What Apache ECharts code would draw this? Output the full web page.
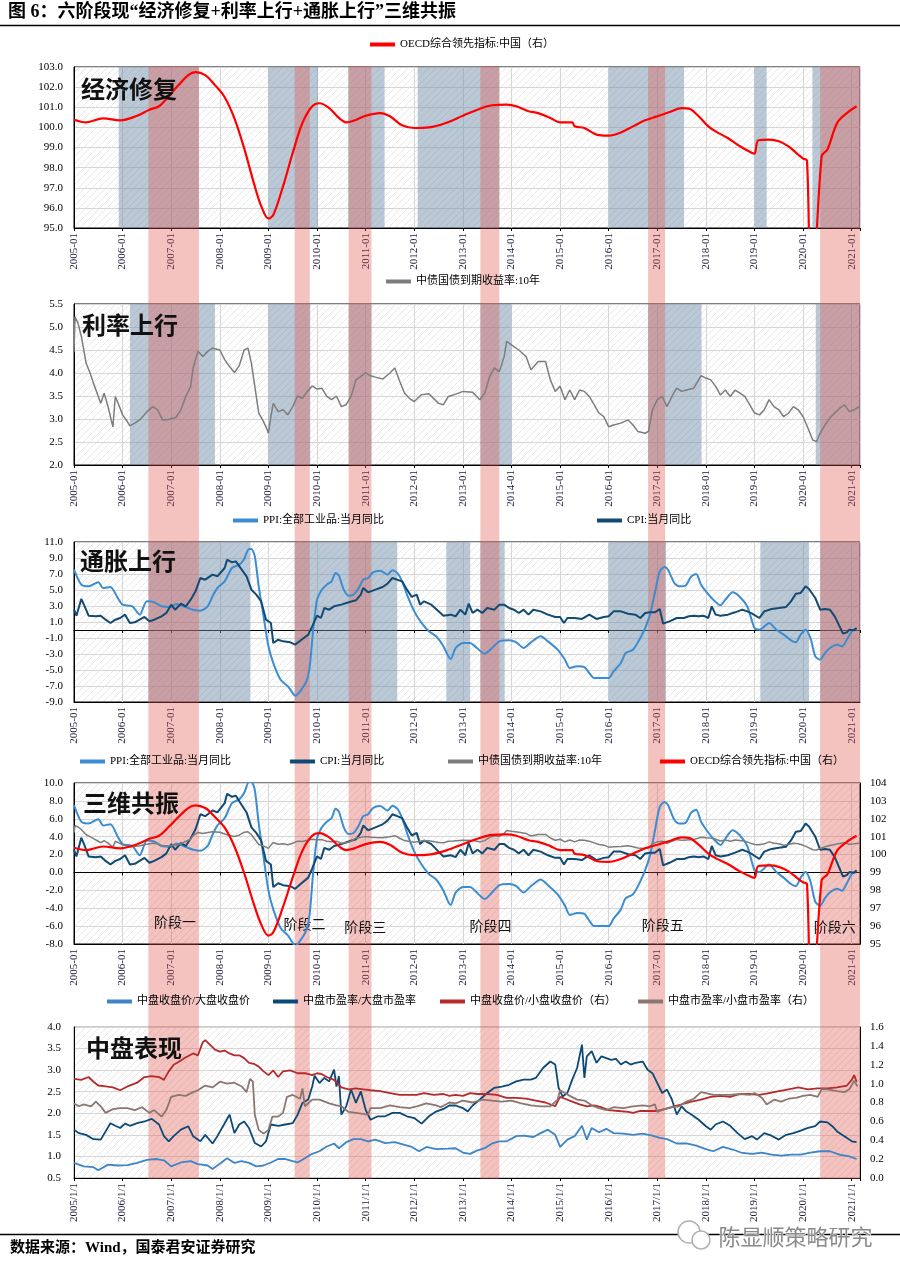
<!DOCTYPE html>
<html><head><meta charset="utf-8">
<script src="https://cdn.jsdelivr.net/npm/echarts/dist/echarts.min.js"></script>
<style>html,body{margin:0;padding:0;background:#fff}#c{width:900px;height:1276px}</style>
</head><body><div id="c"></div>
<script>
// ---------------- DATA (x = fractional year) ----------------
const yearTicks = {min: 2005, max: 2021.17};
const stageNames = ['阶段一','阶段二','阶段三','阶段四','阶段五','阶段六'];
const stageBands = [[2006.53,2007.57],[2009.54,2009.85],[2010.65,2011.12],[2013.36,2013.75],[2016.81,2017.16],[2020.35,2021.17]];
const stageLabelAt = [[2007.08,-5.5],[2009.74,-5.72],[2010.99,-6.06],[2013.57,-5.95],[2017.11,-5.84],[2020.65,-6.06]];
const econBands = [[2005.92,2007.57],[2009.0,2010.02],[2010.64,2011.39],[2012.07,2013.75],[2016.0,2017.55],[2019.0,2019.25],[2020.19,2021.17]];
const rateBands = [[2006.15,2007.9],[2009.0,2009.86],[2010.65,2011.12],[2013.36,2014.0],[2016.81,2017.91],[2020.26,2021.17]];
const inflBands = [[2006.53,2008.63],[2009.54,2011.65],[2012.66,2013.15],[2013.36,2013.86],[2016.0,2017.18],[2019.12,2020.12],[2020.35,2021.17]];

const oecd = [[2005.0,100.38],[2005.25,100.25],[2005.6,100.45],[2005.95,100.35],[2006.3,100.58],[2006.55,100.88],[2006.75,101.05],[2006.95,101.55],[2007.15,102.1],[2007.35,102.6],[2007.5,102.75],[2007.7,102.6],[2007.9,102.1],[2008.1,101.5],[2008.3,100.45],[2008.5,98.97],[2008.7,97.23],[2008.85,96.1],[2009.0,95.47],[2009.1,95.65],[2009.3,97.07],[2009.5,98.73],[2009.7,100.22],[2009.9,101.05],[2010.05,101.2],[2010.25,100.96],[2010.45,100.47],[2010.6,100.25],[2010.75,100.33],[2011.0,100.58],[2011.3,100.71],[2011.5,100.55],[2011.75,100.1],[2012.0,99.97],[2012.3,100.0],[2012.65,100.22],[2013.0,100.58],[2013.3,100.88],[2013.6,101.1],[2013.9,101.13],[2014.1,101.05],[2014.35,100.8],[2014.55,100.71],[2014.8,100.47],[2015.0,100.25],[2015.25,100.25],[2015.3,100.05],[2015.5,99.97],[2015.75,99.64],[2016.0,99.59],[2016.25,99.75],[2016.5,100.05],[2016.75,100.35],[2017.0,100.55],[2017.25,100.76],[2017.5,100.96],[2017.65,100.93],[2017.85,100.55],[2018.05,100.05],[2018.2,99.8],[2018.45,99.47],[2018.7,99.06],[2018.95,98.73],[2019.0,98.7],[2019.08,99.36],[2019.3,99.39],[2019.5,99.31],[2019.7,99.06],[2019.9,98.64],[2020.0,98.45],[2020.08,98.35],[2020.17,90.5],[2020.38,98.56],[2020.5,98.9],[2020.7,100.22],[2020.9,100.71],[2021.1,101.05]];

const bond10y = [[2005.0,4.45],[2005.02,5.22],[2005.08,5.09],[2005.15,4.8],[2005.25,4.21],[2005.33,4.0],[2005.4,3.78],[2005.5,3.49],[2005.55,3.34],[2005.62,3.56],[2005.7,3.27],[2005.8,2.83],[2005.85,3.49],[2005.92,3.31],[2006.0,3.09],[2006.1,2.94],[2006.15,2.85],[2006.25,2.91],[2006.35,2.98],[2006.5,3.16],[2006.62,3.27],[2006.72,3.2],[2006.82,2.98],[2006.95,2.99],[2007.1,3.04],[2007.2,3.2],[2007.3,3.49],[2007.4,3.71],[2007.45,4.11],[2007.55,4.47],[2007.65,4.36],[2007.75,4.47],[2007.85,4.54],[2008.0,4.5],[2008.1,4.29],[2008.2,4.14],[2008.3,4.01],[2008.4,4.16],[2008.5,4.5],[2008.58,4.54],[2008.65,4.21],[2008.72,3.71],[2008.8,3.13],[2008.88,2.98],[2008.95,2.83],[2009.0,2.69],[2009.05,3.05],[2009.1,3.34],[2009.2,3.16],[2009.3,3.2],[2009.4,3.09],[2009.5,3.27],[2009.6,3.5],[2009.7,3.45],[2009.8,3.6],[2009.9,3.72],[2010.0,3.65],[2010.1,3.67],[2010.2,3.49],[2010.3,3.42],[2010.4,3.5],[2010.5,3.27],[2010.6,3.31],[2010.7,3.49],[2010.8,3.85],[2010.9,3.92],[2011.0,4.01],[2011.1,3.94],[2011.2,3.91],[2011.35,3.87],[2011.5,4.0],[2011.6,4.11],[2011.7,3.82],[2011.8,3.56],[2011.9,3.45],[2012.0,3.38],[2012.15,3.53],[2012.3,3.55],[2012.5,3.34],[2012.6,3.31],[2012.7,3.49],[2012.8,3.52],[2013.0,3.6],[2013.2,3.58],[2013.35,3.42],[2013.45,3.56],[2013.55,3.92],[2013.65,4.11],[2013.75,4.03],[2013.85,4.36],[2013.9,4.69],[2014.0,4.61],[2014.15,4.5],[2014.3,4.36],[2014.4,4.07],[2014.55,4.25],[2014.7,4.25],[2014.8,3.85],[2014.9,3.6],[2015.0,3.71],[2015.1,3.42],[2015.2,3.63],[2015.3,3.42],[2015.4,3.63],[2015.5,3.6],[2015.6,3.49],[2015.7,3.31],[2015.8,3.13],[2015.9,3.05],[2016.0,2.83],[2016.1,2.87],[2016.25,2.91],[2016.4,2.98],[2016.5,2.87],[2016.6,2.73],[2016.75,2.69],[2016.82,2.73],[2016.9,3.2],[2017.0,3.42],[2017.1,3.49],[2017.2,3.27],[2017.3,3.49],[2017.4,3.67],[2017.5,3.6],[2017.6,3.63],[2017.75,3.67],[2017.9,3.94],[2018.0,3.89],[2018.1,3.85],[2018.2,3.71],[2018.3,3.52],[2018.4,3.63],[2018.5,3.49],[2018.6,3.63],[2018.7,3.56],[2018.8,3.49],[2018.9,3.31],[2019.0,3.13],[2019.1,3.09],[2019.2,3.2],[2019.3,3.42],[2019.4,3.27],[2019.5,3.2],[2019.6,3.05],[2019.7,3.13],[2019.8,3.27],[2019.9,3.2],[2020.0,3.05],[2020.1,2.8],[2020.2,2.54],[2020.28,2.51],[2020.35,2.69],[2020.45,2.87],[2020.55,3.02],[2020.65,3.13],[2020.75,3.23],[2020.85,3.31],[2020.95,3.16],[2021.05,3.2],[2021.15,3.27]];

const ppi = [[2005.0,7.54],[2005.15,5.67],[2005.3,5.46],[2005.5,5.96],[2005.6,5.25],[2005.75,5.38],[2005.9,4.0],[2006.0,3.17],[2006.2,2.96],[2006.35,1.92],[2006.5,3.58],[2006.65,3.46],[2006.8,2.96],[2007.0,2.88],[2007.1,3.25],[2007.25,2.96],[2007.45,2.54],[2007.6,2.42],[2007.75,2.96],[2007.85,4.21],[2007.95,5.25],[2008.1,6.08],[2008.25,7.75],[2008.4,8.17],[2008.5,8.88],[2008.6,10.13],[2008.65,10.13],[2008.72,9.21],[2008.8,5.46],[2008.9,1.71],[2009.0,-2.04],[2009.1,-4.13],[2009.25,-6.21],[2009.4,-7.04],[2009.5,-7.88],[2009.55,-8.21],[2009.65,-7.67],[2009.78,-6.42],[2009.85,-4.54],[2009.92,0.0],[2010.0,3.79],[2010.1,5.04],[2010.2,5.67],[2010.3,6.08],[2010.38,7.13],[2010.45,6.79],[2010.55,5.04],[2010.65,4.29],[2010.75,4.42],[2010.85,5.17],[2010.95,6.29],[2011.05,6.5],[2011.15,7.21],[2011.3,7.42],[2011.45,6.92],[2011.55,7.46],[2011.65,7.13],[2011.75,6.08],[2011.85,4.42],[2012.0,2.33],[2012.15,0.88],[2012.3,-0.17],[2012.45,-0.79],[2012.6,-2.04],[2012.7,-3.29],[2012.75,-3.63],[2012.85,-2.25],[2013.0,-1.63],[2013.15,-1.63],[2013.25,-2.04],[2013.45,-2.96],[2013.6,-2.25],[2013.75,-1.42],[2013.95,-1.29],[2014.1,-1.54],[2014.25,-2.25],[2014.4,-1.54],[2014.6,-0.79],[2014.75,-1.42],[2014.95,-2.46],[2015.1,-3.71],[2015.2,-4.75],[2015.35,-4.54],[2015.5,-4.63],[2015.6,-5.38],[2015.7,-6.0],[2015.85,-6.0],[2016.0,-6.0],[2016.1,-5.17],[2016.25,-4.13],[2016.35,-2.88],[2016.5,-2.46],[2016.65,-1.0],[2016.75,0.25],[2016.85,1.92],[2016.95,4.63],[2017.05,7.33],[2017.15,7.88],[2017.22,7.54],[2017.35,5.88],[2017.45,5.46],[2017.58,5.54],[2017.7,6.71],[2017.8,7.0],[2017.9,5.67],[2018.0,4.83],[2018.15,3.79],[2018.3,3.08],[2018.4,3.79],[2018.55,4.71],[2018.7,4.13],[2018.85,2.96],[2019.0,0.25],[2019.1,0.04],[2019.3,0.88],[2019.45,0.04],[2019.6,-0.58],[2019.75,-1.29],[2019.85,-1.54],[2019.95,-0.58],[2020.05,0.04],[2020.15,-1.0],[2020.25,-3.29],[2020.35,-3.71],[2020.45,-2.88],[2020.55,-2.25],[2020.7,-1.83],[2020.8,-2.04],[2020.9,-1.21],[2021.0,-0.17],[2021.08,0.13]];

const cpi = [[2005.0,2.54],[2005.05,1.79],[2005.15,3.88],[2005.22,2.96],[2005.3,1.79],[2005.45,1.71],[2005.55,1.79],[2005.65,1.29],[2005.75,0.88],[2005.85,1.29],[2005.95,1.5],[2006.05,1.92],[2006.15,0.88],[2006.25,0.96],[2006.35,1.29],[2006.45,1.63],[2006.55,1.08],[2006.65,1.29],[2006.8,1.71],[2006.9,2.13],[2007.0,3.17],[2007.08,2.54],[2007.2,3.29],[2007.3,2.96],[2007.4,3.79],[2007.5,4.83],[2007.6,6.5],[2007.7,6.29],[2007.85,6.92],[2007.95,6.71],[2008.1,7.75],[2008.15,8.79],[2008.25,8.46],[2008.33,8.58],[2008.45,7.54],[2008.55,6.71],[2008.65,5.04],[2008.75,4.42],[2008.85,3.58],[2008.95,1.29],[2009.05,0.88],[2009.1,-1.63],[2009.2,-1.21],[2009.3,-1.42],[2009.45,-1.54],[2009.55,-1.83],[2009.7,-1.13],[2009.82,-0.58],[2009.9,0.46],[2010.0,1.79],[2010.08,1.5],[2010.15,2.75],[2010.25,2.54],[2010.35,2.96],[2010.5,3.17],[2010.65,3.46],[2010.8,3.71],[2010.9,4.42],[2010.95,5.25],[2011.05,4.71],[2011.2,5.04],[2011.35,5.38],[2011.45,5.79],[2011.55,6.5],[2011.65,6.29],[2011.75,6.08],[2011.85,5.04],[2011.95,4.13],[2012.05,4.42],[2012.12,3.17],[2012.2,3.58],[2012.35,3.17],[2012.5,2.33],[2012.6,1.79],[2012.75,1.92],[2012.85,1.71],[2012.95,2.54],[2013.05,1.92],[2013.12,3.29],[2013.2,2.13],[2013.3,2.54],[2013.4,2.13],[2013.5,2.75],[2013.65,2.54],[2013.75,3.17],[2013.85,3.17],[2013.95,2.75],[2014.05,2.54],[2014.15,2.13],[2014.25,2.54],[2014.35,1.92],[2014.45,2.54],[2014.6,2.33],[2014.75,1.92],[2014.9,1.63],[2015.0,1.63],[2015.08,0.88],[2015.15,1.5],[2015.3,1.5],[2015.45,1.38],[2015.6,1.92],[2015.75,1.38],[2015.9,1.63],[2016.0,1.71],[2016.1,2.33],[2016.25,2.33],[2016.4,2.04],[2016.55,1.92],[2016.65,1.5],[2016.75,2.13],[2016.85,2.21],[2016.95,2.21],[2017.05,2.63],[2017.12,0.79],[2017.25,1.08],[2017.4,1.5],[2017.55,1.5],[2017.65,1.71],[2017.75,1.79],[2017.85,1.71],[2017.95,1.79],[2018.05,1.5],[2018.12,2.96],[2018.2,1.92],[2018.3,1.79],[2018.45,1.92],[2018.6,2.21],[2018.75,2.54],[2018.85,2.33],[2018.95,2.04],[2019.1,1.5],[2019.2,2.33],[2019.35,2.63],[2019.5,2.75],[2019.65,2.88],[2019.75,3.58],[2019.85,4.54],[2019.95,4.63],[2020.05,5.46],[2020.12,5.13],[2020.25,4.0],[2020.35,2.54],[2020.45,2.63],[2020.55,2.54],[2020.65,1.71],[2020.75,0.46],[2020.82,-0.46],[2020.9,-0.29],[2020.95,0.04],[2021.05,-0.04],[2021.1,0.25]];

const midLargePrice = [[2005.0,0.85],[2005.2,0.77],[2005.4,0.75],[2005.5,0.68],[2005.7,0.81],[2005.9,0.79],[2006.1,0.8],[2006.3,0.85],[2006.5,0.92],[2006.7,0.94],[2006.85,0.91],[2007.0,0.77],[2007.2,0.86],[2007.4,0.89],[2007.55,0.82],[2007.75,0.79],[2007.85,0.71],[2008.0,0.83],[2008.15,0.96],[2008.3,0.85],[2008.45,0.89],[2008.6,0.85],[2008.75,0.77],[2008.9,0.79],[2009.05,0.86],[2009.2,0.94],[2009.35,0.94],[2009.5,0.89],[2009.6,0.86],[2009.75,0.96],[2009.9,1.06],[2010.05,1.12],[2010.2,1.23],[2010.35,1.3],[2010.45,1.19],[2010.6,1.33],[2010.75,1.4],[2010.9,1.4],[2011.05,1.35],[2011.2,1.39],[2011.4,1.31],[2011.6,1.33],[2011.8,1.27],[2011.95,1.22],[2012.1,1.12],[2012.25,1.22],[2012.45,1.17],[2012.7,1.18],[2012.85,1.19],[2013.0,1.09],[2013.15,1.06],[2013.3,1.14],[2013.45,1.19],[2013.6,1.3],[2013.75,1.35],[2013.9,1.35],[2014.1,1.47],[2014.25,1.48],[2014.45,1.45],[2014.6,1.54],[2014.75,1.62],[2014.9,1.5],[2015.0,1.22],[2015.15,1.39],[2015.3,1.47],[2015.45,1.71],[2015.55,1.39],[2015.65,1.66],[2015.8,1.56],[2015.95,1.64],[2016.1,1.54],[2016.3,1.53],[2016.5,1.5],[2016.7,1.53],[2016.9,1.48],[2017.05,1.43],[2017.2,1.4],[2017.4,1.3],[2017.6,1.3],[2017.8,1.25],[2018.0,1.17],[2018.15,1.12],[2018.35,1.22],[2018.55,1.16],[2018.75,1.08],[2018.95,1.06],[2019.15,1.09],[2019.35,1.04],[2019.55,1.02],[2019.75,1.04],[2019.95,1.04],[2020.15,1.09],[2020.35,1.12],[2020.55,1.12],[2020.75,1.04],[2020.95,1.0],[2021.1,0.94]];

const midLargePE = [[2005.0,1.62],[2005.1,1.54],[2005.25,1.5],[2005.4,1.4],[2005.55,1.39],[2005.65,1.58],[2005.75,1.77],[2005.85,1.71],[2005.95,1.66],[2006.05,1.76],[2006.15,1.71],[2006.3,1.77],[2006.45,1.81],[2006.6,1.87],[2006.75,1.74],[2006.85,1.47],[2006.95,1.35],[2007.05,1.47],[2007.2,1.62],[2007.35,1.7],[2007.45,1.47],[2007.6,1.35],[2007.7,1.5],[2007.85,1.3],[2007.95,1.47],[2008.1,1.77],[2008.2,1.97],[2008.3,1.54],[2008.4,1.74],[2008.5,1.81],[2008.6,1.66],[2008.72,1.31],[2008.85,1.23],[2008.95,1.35],[2009.05,1.74],[2009.2,1.71],[2009.35,1.74],[2009.5,1.77],[2009.6,1.97],[2009.7,2.24],[2009.82,2.32],[2009.9,2.62],[2009.95,2.87],[2010.05,2.7],[2010.15,2.82],[2010.25,2.74],[2010.35,3.01],[2010.4,2.62],[2010.45,2.86],[2010.5,1.97],[2010.6,2.16],[2010.7,2.55],[2010.8,2.24],[2010.9,2.51],[2011.0,2.08],[2011.1,1.85],[2011.25,1.93],[2011.4,1.93],[2011.55,2.01],[2011.7,2.01],[2011.85,1.93],[2012.0,1.89],[2012.15,1.76],[2012.3,1.93],[2012.45,2.04],[2012.6,2.1],[2012.72,2.18],[2012.85,2.18],[2013.0,2.12],[2013.1,2.04],[2013.2,2.18],[2013.35,2.32],[2013.5,2.47],[2013.65,2.59],[2013.8,2.62],[2013.95,2.66],[2014.1,2.74],[2014.25,2.78],[2014.4,2.78],[2014.5,2.82],[2014.65,3.05],[2014.8,3.2],[2014.9,3.13],[2014.97,2.59],[2015.05,2.39],[2015.15,2.47],[2015.25,2.78],[2015.35,3.05],[2015.45,3.59],[2015.5,2.82],[2015.55,3.32],[2015.65,3.44],[2015.75,3.17],[2015.85,3.32],[2015.95,3.28],[2016.05,3.24],[2016.15,3.26],[2016.25,3.13],[2016.35,3.2],[2016.45,3.13],[2016.55,3.17],[2016.7,3.2],[2016.8,3.01],[2016.9,2.93],[2017.0,2.7],[2017.1,2.47],[2017.2,2.55],[2017.3,2.32],[2017.4,1.97],[2017.5,2.16],[2017.6,2.04],[2017.7,1.97],[2017.85,1.85],[2018.0,1.7],[2018.1,1.62],[2018.2,1.74],[2018.35,1.81],[2018.5,1.71],[2018.65,1.54],[2018.8,1.4],[2018.95,1.47],[2019.05,1.39],[2019.2,1.54],[2019.35,1.48],[2019.5,1.39],[2019.65,1.5],[2019.8,1.54],[2019.95,1.6],[2020.1,1.66],[2020.25,1.7],[2020.35,1.81],[2020.5,1.79],[2020.6,1.7],[2020.7,1.58],[2020.8,1.5],[2020.9,1.43],[2021.0,1.35],[2021.1,1.33]];

const midSmallPrice = [[2005.0,1.05],[2005.15,1.04],[2005.3,1.07],[2005.4,1.02],[2005.5,0.98],[2005.65,0.97],[2005.8,0.96],[2005.95,0.93],[2006.1,0.97],[2006.3,1.01],[2006.45,1.07],[2006.6,1.08],[2006.75,1.07],[2006.85,1.04],[2006.95,1.13],[2007.05,1.2],[2007.15,1.23],[2007.3,1.28],[2007.45,1.32],[2007.55,1.3],[2007.65,1.44],[2007.7,1.46],[2007.8,1.41],[2007.9,1.36],[2008.0,1.34],[2008.1,1.35],[2008.2,1.32],[2008.3,1.3],[2008.4,1.3],[2008.5,1.27],[2008.6,1.22],[2008.7,1.21],[2008.8,1.18],[2008.9,1.13],[2009.0,1.09],[2009.1,1.14],[2009.2,1.07],[2009.3,1.13],[2009.45,1.14],[2009.6,1.11],[2009.75,1.11],[2009.9,1.09],[2010.0,1.11],[2010.1,1.1],[2010.2,1.07],[2010.35,1.04],[2010.5,0.96],[2010.65,0.94],[2010.8,0.95],[2010.95,0.94],[2011.1,0.93],[2011.3,0.92],[2011.5,0.9],[2011.7,0.88],[2011.9,0.88],[2012.05,0.88],[2012.2,0.9],[2012.4,0.88],[2012.6,0.89],[2012.72,0.87],[2012.85,0.88],[2013.0,0.87],[2013.15,0.9],[2013.3,0.89],[2013.5,0.89],[2013.7,0.88],[2013.9,0.85],[2014.1,0.85],[2014.3,0.84],[2014.5,0.82],[2014.7,0.8],[2014.9,0.76],[2015.0,0.86],[2015.1,0.84],[2015.25,0.81],[2015.4,0.78],[2015.55,0.76],[2015.7,0.77],[2015.85,0.75],[2016.0,0.72],[2016.2,0.71],[2016.4,0.7],[2016.5,0.69],[2016.65,0.71],[2016.85,0.71],[2017.0,0.71],[2017.15,0.73],[2017.35,0.76],[2017.5,0.78],[2017.7,0.81],[2017.9,0.83],[2018.1,0.86],[2018.3,0.87],[2018.5,0.86],[2018.7,0.89],[2018.9,0.89],[2019.1,0.88],[2019.3,0.9],[2019.5,0.92],[2019.7,0.94],[2019.9,0.96],[2020.1,0.94],[2020.3,0.95],[2020.5,0.95],[2020.7,0.96],[2020.9,0.98],[2021.0,1.04],[2021.05,1.09],[2021.1,1.02]];

const midSmallPE = [[2005.0,0.79],[2005.1,0.76],[2005.2,0.78],[2005.35,0.76],[2005.45,0.81],[2005.55,0.76],[2005.65,0.69],[2005.8,0.73],[2005.95,0.74],[2006.1,0.74],[2006.25,0.72],[2006.4,0.75],[2006.55,0.69],[2006.65,0.72],[2006.8,0.65],[2006.9,0.72],[2007.0,0.86],[2007.15,0.88],[2007.3,0.87],[2007.45,0.91],[2007.55,0.93],[2007.7,0.98],[2007.85,0.96],[2008.0,1.02],[2008.15,1.0],[2008.3,1.01],[2008.45,0.97],[2008.55,0.91],[2008.62,1.05],[2008.68,1.02],[2008.72,0.67],[2008.8,0.51],[2008.9,0.47],[2009.0,0.51],[2009.08,0.65],[2009.2,0.65],[2009.3,0.69],[2009.38,0.86],[2009.5,0.88],[2009.65,0.84],[2009.7,0.95],[2009.75,0.76],[2009.9,0.83],[2010.05,0.83],[2010.25,0.79],[2010.4,0.77],[2010.5,0.76],[2010.65,0.7],[2010.8,0.69],[2010.95,0.68],[2011.05,0.67],[2011.1,0.74],[2011.3,0.74],[2011.5,0.77],[2011.7,0.75],[2011.9,0.74],[2012.05,0.76],[2012.25,0.79],[2012.45,0.77],[2012.55,0.75],[2012.72,0.8],[2012.85,0.79],[2013.0,0.82],[2013.2,0.8],[2013.4,0.83],[2013.6,0.82],[2013.8,0.81],[2014.0,0.82],[2014.2,0.79],[2014.4,0.77],[2014.6,0.76],[2014.8,0.76],[2014.95,0.83],[2015.0,0.93],[2015.1,0.9],[2015.2,0.87],[2015.35,0.83],[2015.5,0.82],[2015.65,0.77],[2015.8,0.74],[2015.95,0.72],[2016.1,0.75],[2016.3,0.74],[2016.5,0.76],[2016.7,0.77],[2016.85,0.76],[2016.95,0.78],[2017.0,0.7],[2017.15,0.73],[2017.3,0.75],[2017.45,0.76],[2017.6,0.81],[2017.75,0.84],[2017.9,0.91],[2018.0,0.9],[2018.15,0.88],[2018.3,0.88],[2018.5,0.88],[2018.7,0.89],[2018.9,0.88],[2019.0,0.9],[2019.15,0.85],[2019.25,0.78],[2019.4,0.83],[2019.55,0.81],[2019.7,0.84],[2019.85,0.85],[2020.0,0.87],[2020.15,0.88],[2020.3,0.86],[2020.38,0.94],[2020.5,0.94],[2020.7,0.92],[2020.85,0.91],[2020.95,0.94],[2021.05,1.03],[2021.12,0.97]];

// ---------------- CHART ----------------
const FN = '"Liberation Serif","Times New Roman",serif';
const FC = '"Liberation Serif","Noto Sans CJK SC",serif';
const C = {oecd:'#ff0000', bond:'#7d7d7d', ppi:'#3c8cd2', cpi:'#114a72', mlp:'#3d85c6', mlpe:'#0b4a76', msp:'#b52a2a', mspe:'#8c7672'};
const N = {oecd:'OECD综合领先指标:中国（右）', bond:'中债国债到期收益率:10年', ppi:'PPI:全部工业品:当月同比', cpi:'CPI:当月同比',
  mlp:'中盘收盘价/大盘收盘价', mlpe:'中盘市盈率/大盘市盈率', msp:'中盘收盘价/小盘收盘价（右）', mspe:'中盘市盈率/小盘市盈率（右）'};

function hatch(){const c=document.createElement('canvas');c.width=7;c.height=7;const g=c.getContext('2d');
  g.strokeStyle='#e8e8e8';g.lineWidth=1;g.beginPath();g.moveTo(0,7);g.lineTo(7,0);g.stroke();return c;}
const pat = {image: hatch(), repeat:'repeat'};
const L=74, R=40;
const gridBase = {left:L, right:R, show:true, borderColor:'#000', borderWidth:1, backgroundColor:pat};

const isInt = v => Math.abs(v-Math.round(v))<1e-6;
function xAx(gi, fmt, ticks, split){
  return {type:'value', gridIndex:gi, min:yearTicks.min, max:yearTicks.max, interval:1, position:'bottom',
    axisLine:{onZero:false, lineStyle:{color:'#000', width:1}},
    axisTick:{show:ticks, length:3, lineStyle:{color:'#000'}},
    axisLabel:{rotate:90, formatter: v => isInt(v) ? fmt(Math.round(v)) : '', fontFamily:FN, fontSize:11, color:'#1a1a38', margin:5},
    splitLine:{show:split, lineStyle:{color:'#d6d6d6', width:1}}};
}
function zeroAx(gi){
  return {type:'value', gridIndex:gi, min:yearTicks.min, max:yearTicks.max, interval:1, position:'bottom',
    axisLine:{onZero:true, lineStyle:{color:'#000', width:1}},
    axisTick:{show:true, length:3, lineStyle:{color:'#000'}},
    axisLabel:{show:false}, splitLine:{show:false}};
}
function yAx(gi, min, max, iv, dec, pos, split, margin){
  return {type:'value', gridIndex:gi, min, max, interval:iv, position:pos||'left',
    axisLine:{show:true, onZero:false, lineStyle:{color:'#000'}}, axisTick:{show:false},
    axisLabel:{formatter: v => v.toFixed(dec), fontFamily:FN, fontSize:11, color:'#000', margin: margin||11},
    splitLine:{show:split!==false, lineStyle:{color:'#d6d6d6', width:1}}};
}
const f1 = y => y+'-01', f2 = y => y+'/1/1';

function line(name, data, xi, yi, color, width, smooth){
  return {type:'line', name, data, xAxisIndex:xi, yAxisIndex:yi, showSymbol:false, symbol:'none',
    smooth: smooth||false, lineStyle:{color, width}, itemStyle:{color}, z:5, clip:true, silent:true};
}
function bands(xi, yi, arr, color, z){
  return {type:'line', data:[], xAxisIndex:xi, yAxisIndex:yi, z, silent:true,
    markArea:{silent:true, itemStyle:{color}, data: arr.map(b=>[{xAxis:b[0]},{xAxis:b[1]}])}};
}
const BLUE = 'rgba(112,142,170,0.48)';
const PINK = 'rgba(222,80,70,0.34)';

const legendBase = {padding:0, icon:'rect', itemWidth:25, itemHeight:4, selectedMode:false,
  textStyle:{fontSize:11, fontFamily:FC, color:'#000'}};
const lg = (name, left, top) => Object.assign({}, legendBase, {data:[name], left, top});

const titleStyle = {fontSize:24, fontWeight:'bold', fontFamily:'"Noto Sans CJK SC"', color:'#111'};
const pt = (text, left, top) => ({text, left, top, padding:0, textStyle:titleStyle});

const option = {
  animation:false, backgroundColor:'#fff',
  title:[
    {text:'图 6：六阶段现“经济修复+利率上行+通胀上行”三维共振', left:8, top:3, padding:0,
      textStyle:{fontSize:18, fontWeight:'bold', fontFamily:FC, color:'#000'}},
    pt('经济修复',81,77), pt('利率上行',82,313), pt('通胀上行',80,549), pt('三维共振',83,791), pt('中盘表现',86,1036)
  ],
  legend:[
    lg(N.oecd,370,39), lg(N.bond,386,276), lg(N.ppi,233,515), lg(N.cpi,597,515),
    lg(N.ppi,80,756), lg(N.cpi,290,756), lg(N.bond,448,756), lg(N.oecd,660,756),
    lg(N.mlp,107,996), lg(N.mlpe,273,996), lg(N.msp,440,996), lg(N.mspe,638,996)
  ],
  grid:[
    Object.assign({}, gridBase, {top:67, height:161}),
    Object.assign({}, gridBase, {top:304, height:161}),
    Object.assign({}, gridBase, {top:542, height:160}),
    Object.assign({}, gridBase, {top:783, height:161}),
    Object.assign({}, gridBase, {top:1027, height:151, borderColor:'#999'}),
    {left:L, right:R, top:66, height:1113, show:false}
  ],
  xAxis:[
    xAx(0,f1,true,true), xAx(1,f1,true,true), xAx(2,f1,false,true), zeroAx(2),
    xAx(3,f1,false,true), zeroAx(3), xAx(4,f2,true,false),
    {type:'value', gridIndex:5, min:yearTicks.min, max:yearTicks.max, show:false}
  ],
  yAxis:[
    yAx(0,95,103,1,1), yAx(1,2,5.5,0.5,1), yAx(2,-9,11,2,1),
    yAx(3,-8,10,2,1), yAx(3,95,104,1,0,'right',false,10),
    yAx(4,0.5,4.0,0.5,1,'left',true,13), yAx(4,0,1.6,0.2,1,'right',false,10),
    {type:'value', gridIndex:5, min:0, max:1, show:false}
  ],
  series:[
    bands(0,0,econBands,BLUE,1), bands(1,1,rateBands,BLUE,1), bands(2,2,inflBands,BLUE,1),
    line(N.oecd, oecd, 0, 0, C.oecd, 2.2, 0.35),
    line(N.bond, bond10y, 1, 1, C.bond, 1.5),
    line(N.ppi, ppi, 2, 2, C.ppi, 2, 0.25),
    line(N.cpi, cpi, 2, 2, C.cpi, 2),
    line(N.ppi, ppi, 4, 3, C.ppi, 2, 0.25),
    line(N.cpi, cpi, 4, 3, C.cpi, 2),
    line(N.bond, bond10y, 4, 3, C.bond, 1.5),
    line(N.oecd, oecd, 4, 4, C.oecd, 2.2, 0.35),
    line(N.mlp, midLargePrice, 6, 5, C.mlp, 1.8),
    line(N.mlpe, midLargePE, 6, 5, C.mlpe, 1.8),
    line(N.msp, midSmallPrice, 6, 6, C.msp, 1.8),
    line(N.mspe, midSmallPE, 6, 6, C.mspe, 1.8),
    bands(7,7,stageBands,PINK,20),
    {type:'line', data:[], xAxisIndex:4, yAxisIndex:3, z:30, silent:true,
      markPoint:{silent:true, symbol:'circle', symbolSize:1, itemStyle:{color:'rgba(0,0,0,0)'},
        label:{show:true, position:'inside', formatter:'{b}', fontSize:14, fontFamily:'"Noto Sans CJK SC"', color:'#111'},
        data: stageNames.map((n,i)=>({name:n, coord:stageLabelAt[i]}))}}
  ],
  graphic:[
    {type:'line', shape:{x1:0,y1:25.5,x2:900,y2:25.5}, style:{stroke:'#000', lineWidth:1.5}},
    {type:'line', shape:{x1:0,y1:1234.5,x2:900,y2:1234.5}, style:{stroke:'#000', lineWidth:1.5}},
    {type:'text', left:10, top:1241, style:{text:'数据来源：Wind，国泰君安证券研究', fontSize:15, fontWeight:'bold', fontFamily:FC, fill:'#000'}},
    {type:'circle', shape:{cx:689, cy:1232, r:11}, style:{fill:'#fff', stroke:'#b0b0b0', lineWidth:1.5}, z:50},
    {type:'circle', shape:{cx:701, cy:1240, r:9}, style:{fill:'#fff', stroke:'#b0b0b0', lineWidth:1.5}, z:51},
    {type:'text', left:718, top:1225, z:52, style:{text:'陈显顺策略研究', fontSize:22, fontFamily:'"Noto Sans CJK SC"', fill:'#8a8a8a', stroke:'#fff', lineWidth:1}}
  ]
};
const chart = echarts.init(document.getElementById('c'), null, {renderer:'canvas'});
chart.setOption(option);
</script></body></html>
